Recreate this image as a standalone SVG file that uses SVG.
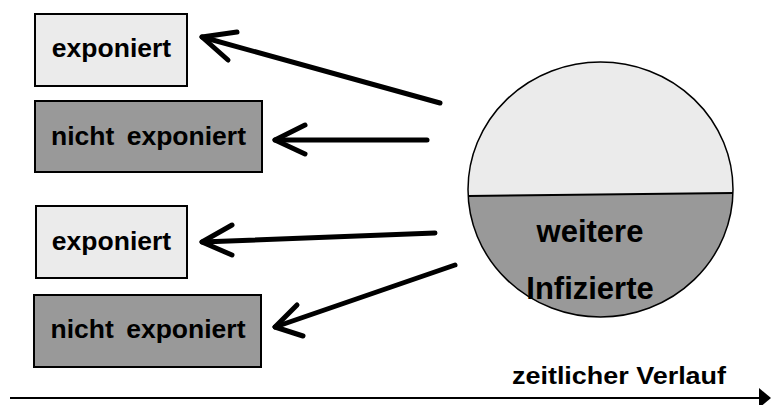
<svg xmlns="http://www.w3.org/2000/svg" width="771" height="405" viewBox="0 0 771 405">
<style>
.box{stroke:#000;stroke-width:2}
.light{fill:#ebebeb}
.dark{fill:#999}
.lbl{font-family:"Liberation Sans",Arial,sans-serif;font-weight:bold;fill:#000;text-anchor:middle}
.arr{fill:none;stroke:#000;stroke-width:5;stroke-linecap:round;stroke-linejoin:round}
</style>
<defs>
<clipPath id="circ"><ellipse cx="600.5" cy="189.5" rx="132.5" ry="127.5"/></clipPath>
</defs>
<g id="box1"><rect class="box light" x="35" y="14" width="152" height="72"/><text class="lbl" x="111.5" y="57" font-size="26.5">exponiert</text></g>
<g id="box2"><rect class="box dark" x="35" y="101" width="227" height="71"/><text class="lbl" x="148.5" y="145" font-size="26.5" word-spacing="5">nicht exponiert</text></g>
<g id="box3"><rect class="box light" x="36" y="206" width="151" height="72"/><text class="lbl" x="111.5" y="250" font-size="26.5">exponiert</text></g>
<g id="box4"><rect class="box dark" x="34" y="295" width="227" height="72"/><text class="lbl" x="148" y="338" font-size="26.5" word-spacing="5">nicht exponiert</text></g>
<g id="circle">
<ellipse cx="600.5" cy="189.5" rx="132.5" ry="127.5" class="light"/>
<polygon points="460,196.2 740,192.8 740,330 460,330" class="dark" clip-path="url(#circ)"/>
<line x1="468" y1="196" x2="733" y2="193" stroke="#000" stroke-width="2"/>
<ellipse cx="600.5" cy="189.5" rx="132.5" ry="127.5" fill="none" stroke="#000" stroke-width="1.5"/>
<text class="lbl" x="590" y="242" font-size="31">weitere</text>
<text class="lbl" x="590" y="299" font-size="31">Infizierte</text>
</g>
<g id="connectors">
<polyline class="arr" points="440,103 202,37"/><polyline class="arr" points="237,32 202,37 228,60"/>
<polyline class="arr" points="427,140 275,140"/><polyline class="arr" points="305,125 275,140 305,154"/>
<polyline class="arr" points="435,233 202,242"/><polyline class="arr" points="232,225 202,242 232,255"/>
<polyline class="arr" points="455,265 275,327"/><polyline class="arr" points="297,305 275,327 303,336"/>
</g>
<g id="timeline">
<line x1="10" y1="398" x2="762" y2="398" stroke="#000" stroke-width="2"/>
<polygon points="759,388 771,398 759,408" fill="#000"/>
<text class="lbl" x="619" y="384" font-size="24" textLength="214" lengthAdjust="spacingAndGlyphs">zeitlicher Verlauf</text>
</g>
</svg>
